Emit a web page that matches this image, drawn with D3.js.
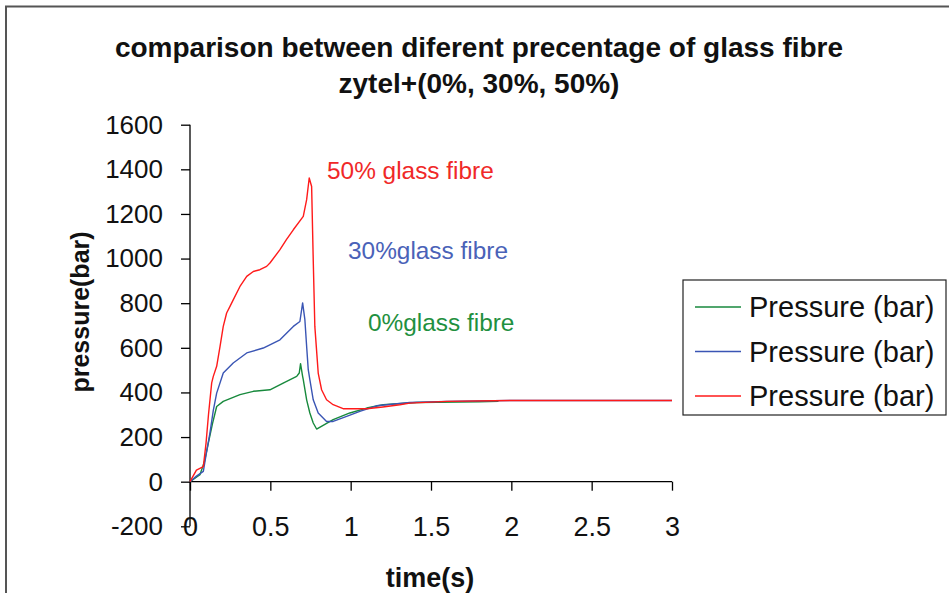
<!DOCTYPE html>
<html>
<head>
<meta charset="utf-8">
<script src="https://cdn.jsdelivr.net/npm/d3@7"></script>
<style>
  html, body { margin: 0; padding: 0; background: #fff; }
  svg { display: block; font-family: "Liberation Sans", Arial, sans-serif; }
</style>
</head>
<body>
<div class="draw-area"></div>
<script>
// ---- Data ----
const titleLines = ["comparison between diferent precentage of glass fibre", "zytel+(0%, 30%, 50%)"];
const xTicks = [0, 0.5, 1, 1.5, 2, 2.5, 3];
const yTicks = [-200, 0, 200, 400, 600, 800, 1000, 1200, 1400, 1600];
const seriesNames = ["Pressure (bar)", "Pressure (bar)", "Pressure (bar)"];
const seriesLabels = ["0%glass fibre", "30%glass fibre", "50% glass fibre"];

// 0% glass fibre (green)
const timeGreen = [0, 0.062, 0.09, 0.114, 0.14, 0.166, 0.207, 0.311, 0.394, 0.4975, 0.58, 0.664, 0.68, 0.688, 0.701, 0.705, 0.726, 0.746, 0.767, 0.788, 0.891, 0.995, 1.10, 1.202, 1.41, 1.80, 1.92];
const pressGreen = [0, 31, 90, 173, 260, 337, 360, 390, 405, 412, 442, 472, 487, 529, 472, 457, 367, 308, 263, 236, 278, 308, 330, 345, 355, 358, 360];

// 30% glass fibre (blue)
const timeBlue = [0, 0.04, 0.083, 0.10, 0.124, 0.145, 0.166, 0.207, 0.269, 0.353, 0.456, 0.56, 0.643, 0.684, 0.701, 0.715, 0.726, 0.736, 0.746, 0.767, 0.798, 0.85, 0.891, 0.975, 1.057, 1.161, 1.368, 1.6, 2.0, 2.5, 3.0];
const pressBlue = [0, 25, 46, 120, 218, 320, 397, 487, 532, 577, 599, 636, 696, 718, 801, 726, 606, 502, 457, 367, 308, 270, 270, 293, 315, 340, 355, 360, 364, 364, 364];

// 50% glass fibre (red)
const timeRed = [0, 0.04, 0.083, 0.10, 0.115, 0.135, 0.145, 0.166, 0.187, 0.207, 0.228, 0.249, 0.269, 0.311, 0.353, 0.394, 0.435, 0.477, 0.4975, 0.56, 0.60, 0.643, 0.705, 0.726, 0.742, 0.757, 0.767, 0.777, 0.798, 0.819, 0.85, 0.891, 0.953, 1.10, 1.20, 1.306, 1.368, 1.597, 2.0, 2.5, 3.0];
const pressRed = [0, 52, 68, 174, 300, 443, 472, 517, 606, 696, 756, 786, 815, 875, 920, 942, 950, 965, 980, 1040, 1085, 1129, 1189, 1264, 1361, 1323, 995, 696, 487, 412, 367, 345, 327, 327, 335, 345, 352, 360, 364, 364, 364];

const lineColors = ["#17893c", "#3a55b4", "#ff1a1a"];
const textColors = ["#1f9040", "#4a62b8", "#f02828"];

// ---- Canvas ----
const width = 949, height = 593;
const svg = d3.select(".draw-area").append("svg")
    .attr("width", width)
    .attr("height", height);

// chart outer border (runs off right and bottom edges)
svg.append("path")
    .attr("d", "M6,600 L6,6.5 L960,6.5")
    .attr("fill", "none")
    .attr("stroke", "#555")
    .attr("stroke-width", 2);

// Scales
const x = d3.scaleLinear().domain([0, 3]).range([190, 672]);
const y = d3.scaleLinear().domain([-200, 1600]).range([526.3, 124.7]);

// Title
svg.append("g").selectAll("text")
    .data(titleLines)
    .join("text")
    .attr("x", 479)
    .attr("y", (d, i) => 57 + i * 36)
    .attr("text-anchor", "middle")
    .attr("font-weight", "bold")
    .attr("font-size", 28)
    .attr("fill", "#111")
    .text(d => d);

// Y axis
const yAxis = svg.append("g")
    .attr("transform", `translate(${x(0)},0)`)
    .call(d3.axisLeft(y).tickValues(yTicks).tickSize(9).tickFormat(d => String(d)));
yAxis.select(".domain").attr("stroke", "#000").attr("stroke-width", 1.3).attr("d", `M0,${y(1600)}V${y(-200)}`);
yAxis.selectAll(".tick line").attr("stroke", "#000").attr("stroke-width", 1.3);
yAxis.selectAll(".tick text")
    .attr("x", -27)
    .attr("font-size", 26)
    .attr("font-family", "Liberation Sans, Arial, sans-serif")
    .attr("fill", "#111");

// X axis (crosses at 0, labels sit low)
const xAxis = svg.append("g")
    .attr("transform", `translate(0,${y(0)})`)
    .call(d3.axisBottom(x).tickValues(xTicks).tickSize(9).tickFormat(d => String(d)));
xAxis.select(".domain").attr("stroke", "#000").attr("stroke-width", 1.3).attr("d", `M${x(0)},0H${x(3)}`);
xAxis.selectAll(".tick line").attr("stroke", "#000").attr("stroke-width", 1.3);
xAxis.selectAll(".tick text")
    .attr("y", y(-200) - y(0))
    .attr("dy", "0.35em")
    .attr("font-size", 27)
    .attr("font-family", "Liberation Sans, Arial, sans-serif")
    .attr("fill", "#111");

// Axis titles
svg.append("text")
    .attr("transform", `translate(80,312) rotate(-90)`)
    .attr("text-anchor", "middle")
    .attr("dy", "0.35em")
    .attr("font-weight", "bold")
    .attr("font-size", 25)
    .attr("fill", "#111")
    .text("pressure(bar)");

svg.append("text")
    .attr("x", 430)
    .attr("y", 578)
    .attr("dy", "0.35em")
    .attr("text-anchor", "middle")
    .attr("font-weight", "bold")
    .attr("font-size", 27)
    .attr("fill", "#111")
    .text("time(s)");

// Series lines
const series = [
    d3.zip(timeGreen, pressGreen),
    d3.zip(timeBlue, pressBlue),
    d3.zip(timeRed, pressRed)
];
const line = d3.line().x(d => x(d[0])).y(d => y(d[1]));

svg.append("g").selectAll("path")
    .data(series)
    .join("path")
    .attr("d", line)
    .attr("fill", "none")
    .attr("stroke", (d, i) => lineColors[i])
    .attr("stroke-width", 1.4)
    .attr("stroke-linejoin", "round");

// In-plot labels
const labelPos = [[368, 322], [348, 250], [327, 170]];
svg.append("g").selectAll("text")
    .data(seriesLabels)
    .join("text")
    .attr("x", (d, i) => labelPos[i][0])
    .attr("y", (d, i) => labelPos[i][1])
    .attr("dy", "0.35em")
    .attr("font-size", 24.4)
    .attr("fill", (d, i) => textColors[i])
    .text(d => d);

// Legend
const legend = svg.append("g").attr("transform", "translate(683,280)");
legend.append("rect")
    .attr("width", 263)
    .attr("height", 135)
    .attr("fill", "#fff")
    .attr("stroke", "#222")
    .attr("stroke-width", 1.2);

const rows = legend.selectAll("g.row")
    .data(seriesNames)
    .join("g")
    .attr("class", "row")
    .attr("transform", (d, i) => `translate(0,${27 + i * 44.5})`);
rows.append("line")
    .attr("x1", 12).attr("x2", 58)
    .attr("stroke", (d, i) => lineColors[i])
    .attr("stroke-width", 1.4);
rows.append("text")
    .attr("x", 66)
    .attr("dy", "0.35em")
    .attr("font-size", 29)
    .attr("fill", "#111")
    .text(d => d);
</script>
</body>
</html>
